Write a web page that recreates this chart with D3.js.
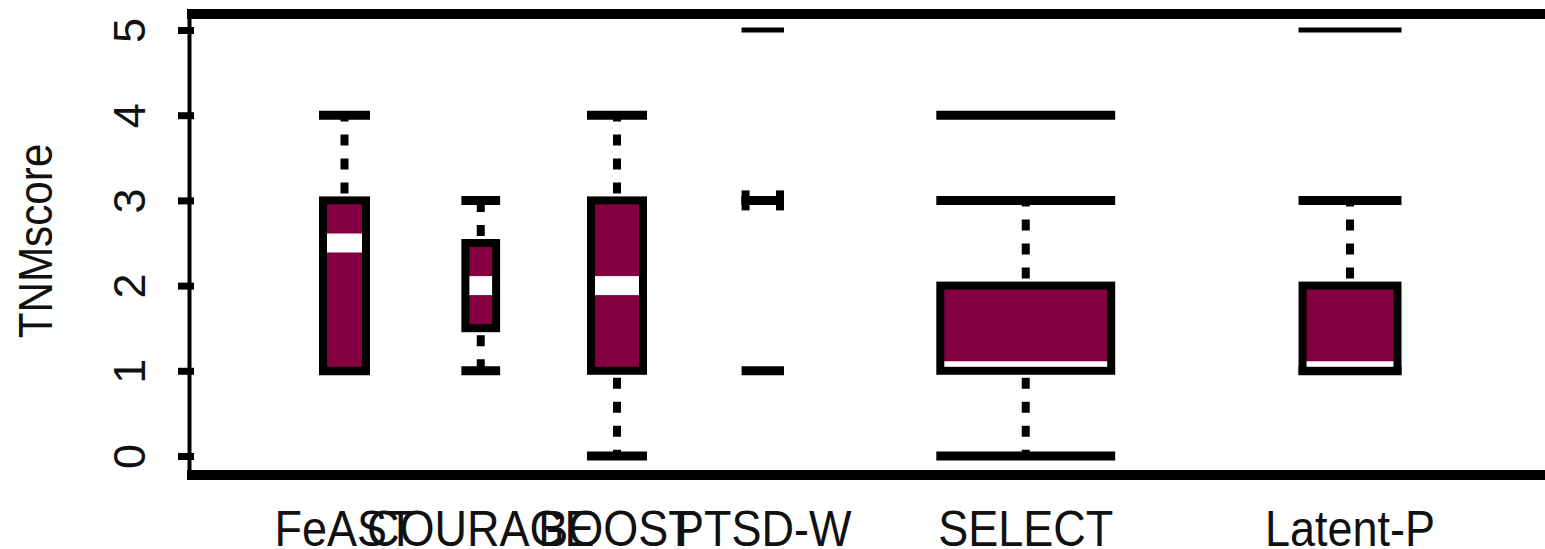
<!DOCTYPE html>
<html>
<head>
<meta charset="utf-8">
<script src="https://cdn.jsdelivr.net/npm/d3@7/dist/d3.min.js"></script>
<style>
  html, body { margin: 0; padding: 0; background: #fff; }
  svg { display: block; }
</style>
</head>
<body>
<svg id="chart" width="1545" height="549"></svg>
<script>
// ---- data ----
const categories   = ["FeAST", "COURAGE", "BOOST", "PTSD-W", "SELECT", "Latent-P"];
const positions    = [1, 2, 3, 4.07, 6, 8.38];
const sampleSizes  = [26, 15, 36, 18, 320, 106];
const whiskerLow   = [1, 1, 0, 3, 0, 1];
const q1           = [1, 1.5, 1, 3, 1, 1];
const medians      = [2.5, 2, 2, 3, 1, 1];
const q3           = [3, 2.5, 3, 3, 2, 2];
const whiskerHigh  = [4, 3, 4, 3, 3, 3];
const outliers     = [[], [], [], [5, 1], [4], [5]];
const yTicks       = [0, 1, 2, 3, 4, 5];
const yTitle       = "TNMscore";

// ---- scales ----
const svg = d3.select("#chart");
const x = d3.scaleLinear().domain([0, 10]).range([208.25, 1570.75]);
const y = d3.scaleLinear().domain([0, 5]).range([456, 30]);
const w = d3.scaleSqrt().domain([0, 400]).range([0, 200]);
const FILL = "#850041";
const BORDER = 8;

const boxes = categories.map((c, i) => ({
  name: c, cx: x(positions[i]), W: w(sampleSizes[i]),
  lo: whiskerLow[i], q1: q1[i], med: medians[i], q3: q3[i], hi: whiskerHigh[i],
  out: outliers[i]
}));

// ---- frame ----
svg.append("line").attr("x1", 187).attr("x2", 1560).attr("y1", 14).attr("y2", 14)
  .attr("stroke", "#000").attr("stroke-width", 10);
svg.append("line").attr("x1", 187).attr("x2", 1560).attr("y1", 475).attr("y2", 475)
  .attr("stroke", "#000").attr("stroke-width", 10);
svg.append("line").attr("x1", 189.5).attr("x2", 189.5).attr("y1", 9).attr("y2", 480)
  .attr("stroke", "#000").attr("stroke-width", 4);

// ---- y axis ----
const yAxis = svg.append("g").attr("transform", "translate(190,0)")
  .call(d3.axisLeft(y).tickValues(yTicks).tickFormat(d3.format("d")).tickSize(12));
yAxis.select(".domain").remove();
yAxis.selectAll(".tick line").attr("x1", 4).attr("x2", -12)
  .attr("stroke", "#000").attr("stroke-width", 7);
yAxis.selectAll(".tick text")
  .attr("x", 0).attr("y", -45).attr("dy", 0)
  .attr("transform", "rotate(-90)")
  .attr("text-anchor", "middle")
  .attr("font-family", "'Liberation Sans', Arial, sans-serif")
  .attr("font-size", 45).attr("fill", "#111");

svg.append("text")
  .attr("transform", "translate(52,241) rotate(-90) scale(0.88,1)")
  .attr("text-anchor", "middle")
  .attr("font-family", "'Liberation Sans', Arial, sans-serif")
  .attr("font-size", 48).attr("fill", "#111")
  .text(yTitle);

// ---- x labels ----
svg.selectAll("text.xlab").data(boxes).join("text")
  .attr("class", "xlab")
  .attr("transform", d => `translate(${d.cx},546) scale(0.9,1)`)
  .attr("text-anchor", "middle")
  .attr("font-family", "'Liberation Sans', Arial, sans-serif")
  .attr("font-size", 50).attr("fill", "#111")
  .text(d => d.name);

// ---- boxes ----
const g = svg.selectAll("g.box").data(boxes).join("g").attr("class", "box");

// whiskers (dotted)
g.each(function(d) {
  const sel = d3.select(this);
  const segs = [];
  if (d.hi > d.q3) segs.push([d.q3, d.hi]);
  if (d.lo < d.q1) segs.push([d.q1, d.lo]);
  segs.forEach(s => {
    sel.append("line")
      .attr("x1", d.cx).attr("x2", d.cx)
      .attr("y1", y(s[0])).attr("y2", y(s[1]))
      .attr("stroke", "#000").attr("stroke-width", 8)
      .attr("stroke-dasharray", "11,13").attr("stroke-dashoffset", 17);
  });
  // caps
  [d.lo, d.hi].forEach(v => {
    sel.append("line")
      .attr("x1", d.cx - d.W / 2).attr("x2", d.cx + d.W / 2)
      .attr("y1", y(v)).attr("y2", y(v))
      .attr("stroke", "#000").attr("stroke-width", 9);
  });
  // outliers as short bars
  d.out.forEach(v => {
    sel.append("line")
      .attr("x1", d.cx - d.W / 2).attr("x2", d.cx + d.W / 2)
      .attr("y1", y(v)).attr("y2", y(v))
      .attr("stroke", "#000").attr("stroke-width", v === 5 ? 5 : 9);
  });

  const left = d.cx - d.W / 2 + BORDER / 2;
  const bw = d.W - BORDER;
  const top = y(d.q3), bot = y(d.q1);
  // fill
  sel.append("rect").attr("x", left).attr("y", top)
    .attr("width", bw).attr("height", bot - top)
    .attr("fill", FILL);
  // median band (white), clipped to box
  const mt = Math.max(top, y(d.med) - 9.5), mb = Math.min(bot, y(d.med) + 9.5);
  if (mb > mt) {
    sel.append("rect").attr("x", left).attr("y", mt)
      .attr("width", bw).attr("height", mb - mt).attr("fill", "#fff");
  }
  // border
  sel.append("rect").attr("x", left).attr("y", top)
    .attr("width", bw).attr("height", bot - top)
    .attr("fill", "none").attr("stroke", "#000").attr("stroke-width", BORDER);
  if (bot - top < 1) {
    [left, left + bw].forEach(xx => {
      sel.append("line").attr("x1", xx).attr("x2", xx)
        .attr("y1", top - 10).attr("y2", top + 10)
        .attr("stroke", "#000").attr("stroke-width", BORDER);
    });
  }
});
</script>
</body>
</html>
